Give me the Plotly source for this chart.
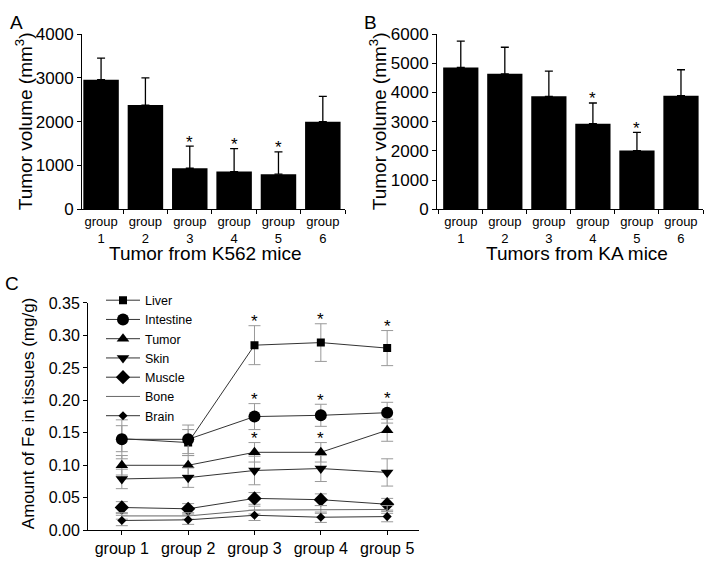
import plotly.graph_objects as go

FONT = "Liberation Sans, Arial, sans-serif"

# ---------------- Data ----------------
bar_cats = ["group<br>1", "group<br>2", "group<br>3", "group<br>4", "group<br>5", "group<br>6"]

k562_vol = [2960, 2380, 935, 860, 800, 2000]
k562_err = [490, 620, 505, 525, 510, 580]
k562_sig = [False, False, True, True, True, False]

ka_vol = [4860, 4640, 3870, 2930, 2010, 3890]
ka_err = [900, 910, 860, 710, 620, 890]
ka_sig = [False, False, False, True, True, False]

line_cats = ["group 1", "group 2", "group 3", "group 4", "group 5"]
tissues = ["Liver", "Intestine", "Tumor", "Skin", "Muscle", "Bone", "Brain"]

liver = [0.141, 0.135, 0.285, 0.289, 0.2805]
liver_err = [0.020, 0.020, 0.030, 0.029, 0.027]
liver_sig = [False, False, True, True, True]

intestine = [0.140, 0.140, 0.175, 0.177, 0.181]
intestine_err = [0.030, 0.022, 0.020, 0.017, 0.016]
intestine_sig = [False, False, True, True, True]

tumor = [0.100, 0.100, 0.120, 0.120, 0.154]
tumor_err = [0.015, 0.015, 0.015, 0.015, 0.017]
tumor_sig = [False, False, True, True, True]

skin = [0.079, 0.081, 0.092, 0.095, 0.089]
skin_err = [0.015, 0.015, 0.022, 0.020, 0.021]

muscle = [0.035, 0.033, 0.049, 0.047, 0.040]
muscle_err = [0.009, 0.008, 0.009, 0.009, 0.009]

bone = [0.022, 0.022, 0.031, 0.032, 0.032]
bone_err = [0.005, 0.005, 0.006, 0.006, 0.006]

brain = [0.015, 0.016, 0.023, 0.020, 0.021]
brain_err = [0.008, 0.007, 0.008, 0.008, 0.008]

# ---------------- Figure ----------------
fig = go.Figure()

def add_bars(vals, errs, xa, ya):
    fig.add_trace(go.Bar(
        x=bar_cats, y=vals, width=0.8, marker=dict(color="black", line=dict(width=0)),
        error_y=dict(type="data", array=errs, arrayminus=[0] * len(errs), symmetric=False,
                     color="black", thickness=1.3, width=4),
        xaxis=xa, yaxis=ya, showlegend=False, hoverinfo="skip"))

add_bars(k562_vol, k562_err, "x", "y")
add_bars(ka_vol, ka_err, "x2", "y2")

series = [
    ("Liver", liver, liver_err, "square", 8, "lines+markers"),
    ("Intestine", intestine, intestine_err, "circle", 12, "lines+markers"),
    ("Tumor", tumor, tumor_err, "triangle-up", 11, "lines+markers"),
    ("Skin", skin, skin_err, "triangle-down", 11, "lines+markers"),
    ("Muscle", muscle, muscle_err, "diamond", 11, "lines+markers"),
    ("Bone", bone, bone_err, "circle", 1, "lines"),
    ("Brain", brain, brain_err, "diamond", 7, "lines+markers"),
]
for name, vals, errs, sym, size, mode in series:
    fig.add_trace(go.Scatter(
        x=line_cats, y=vals, name=name, mode=mode,
        line=dict(color="#666666" if name == "Bone" else "#333333", width=1),
        marker=dict(symbol=sym, size=size, color="black"),
        error_y=dict(type="data", array=errs, color="#999999", thickness=1, width=6),
        xaxis="x3", yaxis="y3"))

annotations = []

def star(xref, yref, x, y):
    annotations.append(dict(xref=xref, yref=yref, x=x, y=y, text="*", showarrow=False,
                            yanchor="middle", yshift=4, font=dict(size=17, family=FONT, color="black")))

for c, v, e, s in zip(bar_cats, k562_vol, k562_err, k562_sig):
    if s:
        star("x", "y", c, v + e)
for c, v, e, s in zip(bar_cats, ka_vol, ka_err, ka_sig):
    if s:
        star("x2", "y2", c, v + e)
for vals, errs, sig in [(liver, liver_err, liver_sig), (intestine, intestine_err, intestine_sig),
                        (tumor, tumor_err, tumor_sig)]:
    for c, v, e, s in zip(line_cats, vals, errs, sig):
        if s:
            star("x3", "y3", c, v + e)

def txt(x, y, text, size, angle=0):
    annotations.append(dict(xref="paper", yref="paper", x=x / 714, y=1 - y / 576, text=text,
                            showarrow=False, textangle=angle, xanchor="center", yanchor="middle",
                            font=dict(size=size, family=FONT, color="black")))

txt(16, 14, "A", 19)
txt(370, 14, "B", 19)
txt(12, 284, "C", 19)
txt(24, 116, "Tumor volume (mm<sup>3</sup>)", 19, -90)
txt(378, 116, "Tumor volume (mm<sup>3</sup>)", 19, -90)
txt(206, 253, "Tumor from K562 mice", 19)
txt(577, 253, "Tumors from KA mice", 19)
txt(28, 419, "Amount of Fe in tissues (mg/g)", 17, -90)

common = dict(showline=True, linecolor="black", linewidth=1, ticks="outside", ticklen=4,
              tickcolor="black", showgrid=False, zeroline=False, fixedrange=True)

fig.update_layout(
    width=714, height=576, autosize=False, margin=dict(l=0, r=0, t=0, b=0),
    paper_bgcolor="white", plot_bgcolor="white",
    font=dict(family=FONT, color="black"),
    xaxis=dict(domain=[82 / 714, 345 / 714], type="category", range=[-0.43, 5.5],
               tickson="boundaries", tickfont=dict(size=13), anchor="y", **common),
    yaxis=dict(domain=[1 - 207 / 576, 1 - 26 / 576], range=[0, 4000], dtick=1000,
               tickfont=dict(size=17), anchor="x", **common),
    xaxis2=dict(domain=[437 / 714, 703 / 714], type="category", range=[-0.54, 5.5],
                tickson="boundaries", tickfont=dict(size=13), anchor="y2", **common),
    yaxis2=dict(domain=[1 - 207 / 576, 1 - 26 / 576], range=[0, 6000], dtick=1000,
                tickfont=dict(size=17), anchor="x2", **common),
    xaxis3=dict(domain=[88 / 714, 419 / 714], type="category", range=[-0.51, 4.48],
                tickfont=dict(size=16), anchor="y3", **common),
    yaxis3=dict(domain=[1 - 539 / 576, 1 - 304 / 576], range=[0, 0.35], dtick=0.05,
                tickformat=".2f", tickfont=dict(size=16), anchor="x3", **common),
    legend=dict(x=101 / 714, y=1 - 286 / 576, xanchor="left", yanchor="top",
                bgcolor="rgba(0,0,0,0)", font=dict(size=12.5, family=FONT),
                tracegroupgap=0, itemwidth=34),
    annotations=annotations,
    bargap=0.2,
)

fig.write_html("out.html", config={"responsive": False, "displayModeBar": False},
               post_script="document.body.style.margin='0';")
